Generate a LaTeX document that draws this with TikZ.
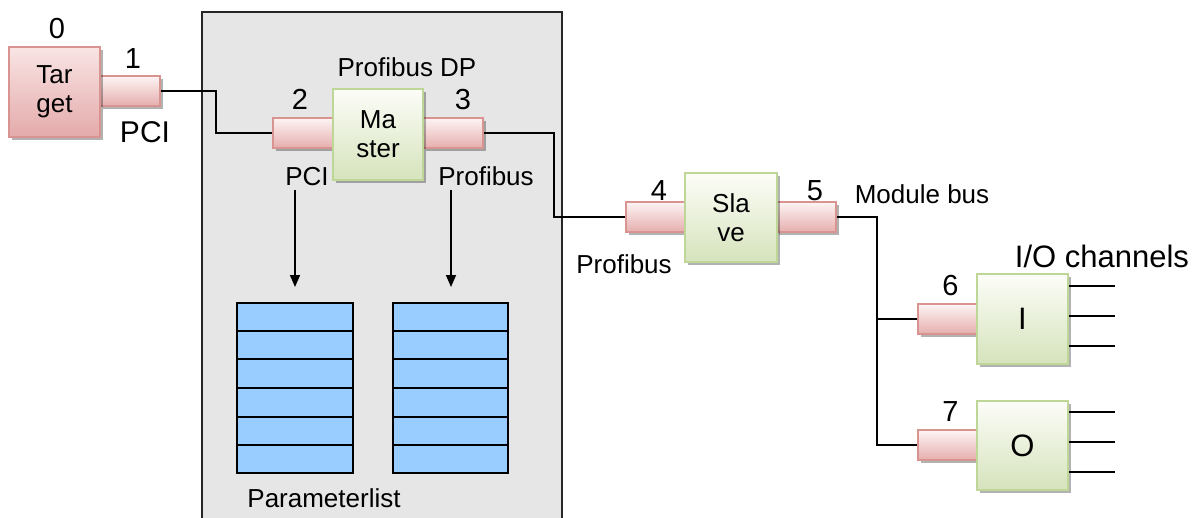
\documentclass[tikz,border=0pt]{standalone}
\usepackage{fontspec}
\setmainfont{Liberation Sans}
\usetikzlibrary{shadows,arrows.meta,calc}

\definecolor{portedge}{RGB}{217,148,146}
\definecolor{porttop}{RGB}{253,244,244}
\definecolor{portbot}{RGB}{230,174,174}
\definecolor{tgttop}{RGB}{249,228,228}
\definecolor{tgtbot}{RGB}{228,170,170}
\definecolor{greenedge}{RGB}{190,214,150}
\definecolor{greentop}{RGB}{252,253,248}
\definecolor{greenbot}{RGB}{214,227,188}
\definecolor{listblue}{RGB}{153,204,255}
\definecolor{panelgray}{RGB}{230,230,230}

\tikzset{
  boxshadow/.style={drop shadow={shadow xshift=3pt,shadow yshift=-3pt,opacity=0.3,fill=black}},
  port/.style={rectangle, draw=portedge, line width=1.5pt, top color=porttop, bottom color=portbot,
    minimum width=60pt, minimum height=30pt, inner sep=0pt, boxshadow},
  unit/.style={rectangle, draw=greenedge, line width=1.5pt, top color=greentop, bottom color=greenbot,
    minimum width=91pt, minimum height=90pt, inner sep=0pt, align=center,
    font=\fontsize{26}{29}\selectfont, boxshadow},
  target/.style={unit, draw=portedge, top color=tgttop, bottom color=tgtbot},
  plist/.style={rectangle, draw=black, line width=2pt, fill=listblue,
    minimum width=116pt, minimum height=170pt, inner sep=0pt},
  lbl/.style={anchor=base, inner sep=0pt, font=\fontsize{26}{29}\selectfont},
  num/.style={anchor=base, inner sep=0pt, font=\fontsize{29}{32}\selectfont},
  big/.style={anchor=base, inner sep=0pt, font=\fontsize{31}{34}\selectfont},
  wire/.style={draw=black, line width=1.6pt},
  flow/.style={wire, -{Triangle[width=10pt,length=12pt]}},
}

\begin{document}
\begin{tikzpicture}[x=1pt,y=-1pt]
\clip (0,0) rectangle (1198,517);
\fill[white] (0,0) rectangle (1198,517);

% host interface panel
\node[draw=black!85, line width=2pt, fill=panelgray, minimum width=360pt, minimum height=520pt,
      inner sep=0pt, anchor=north west] (panel) at (201,11) {};

% ports
\node[port] (p1) at (130,91) {};
\node[port, minimum width=62pt] (p2) at (304,133) {};
\node[port] (p3) at (453,133) {};
\node[port, minimum width=61pt] (p4) at (656.5,217) {};
\node[port] (p5) at (806,217) {};
\node[port] (p6) at (948,319) {};
\node[port] (p7) at (948,445) {};

% function blocks
\node[target] (tgt) at (54.5,92) {Tar\\get};
\node[unit, minimum height=91pt, minimum width=90pt] (master) at (378,134.5) {Ma\\ster};
\node[unit, minimum width=92pt, minimum height=89pt] (slave) at (731,217.5) {Sla\\ve};
\node[unit, font=\fontsize{31}{34}\selectfont] (inmod) at (1022.5,319) {I};
\node[unit, minimum height=89pt, font=\fontsize{31}{34}\selectfont] (outmod) at (1022.5,445.5) {O};

% parameter lists, six entries each
\node[plist] (la) at (295,388) {};
\node[plist, minimum width=115pt] (lb) at (450.5,388) {};
\foreach \l in {la,lb}
  \foreach \i in {1,...,5}
    \draw[line width=2pt] ($(\l.north west)!\i/6!(\l.south west)$) -- ($(\l.north east)!\i/6!(\l.south east)$);

% bus wiring
\coordinate (j1) at (216,0);
\coordinate (j2) at (554,0);
\coordinate (j3) at (877,0);
\draw[wire] (p1.east) -- (p1.east -| j1) |- (p2.west);
\draw[wire] (p3.east) -- (p3.east -| j2) |- (p4.west);
\draw[wire] (p5.east) -- (p5.east -| j3) |- (p7.west);
\draw[wire] (p6.west) -- (p6.west -| j3);

% channel lines
\coordinate (ci1) at (1115,286);
\coordinate (ci2) at (1115,316);
\coordinate (ci3) at (1115,346);
\coordinate (co1) at (1115,412);
\coordinate (co2) at (1115,442);
\coordinate (co3) at (1115,472);
\foreach \c in {ci1,ci2,ci3} \draw[wire] (inmod.east |- \c) -- (\c);
\foreach \c in {co1,co2,co3} \draw[wire] (outmod.east |- \c) -- (\c);

% data flow into the lists
\coordinate (a1s) at (295,190);
\coordinate (a2s) at (451,190);
\draw[flow] (a1s) -- (a1s |- 0,287);
\draw[flow] (a2s) -- (a2s |- 0,287);

% labels
\node[num] (n0) at (57,38) {0};
\node[num] (n1) at (133,68) {1};
\node[num] (n2) at (300,109) {2};
\node[num] (n3) at (463,109) {3};
\node[num] (n4) at (659,200) {4};
\node[num] (n5) at (815,200) {5};
\node[num] (n6) at (950.5,295) {6};
\node[num] (n7) at (950.5,421) {7};
\node[big, font=\fontsize{30}{33}\selectfont] (pcia) at (145,142) {PCI};
\node[lbl] (dp) at (407,76) {Profibus DP};
\node[lbl] (pcib) at (307,185) {PCI};
\node[lbl] (pfa) at (486,185) {Profibus};
\node[lbl] (pfb) at (624,273) {Profibus};
\node[lbl] (mbus) at (922,203) {Module bus};
\node[big] (ioch) at (1102,267) {I/O channels};
\node[lbl] (plist) at (324,507) {Parameterlist};
\end{tikzpicture}
\end{document}
